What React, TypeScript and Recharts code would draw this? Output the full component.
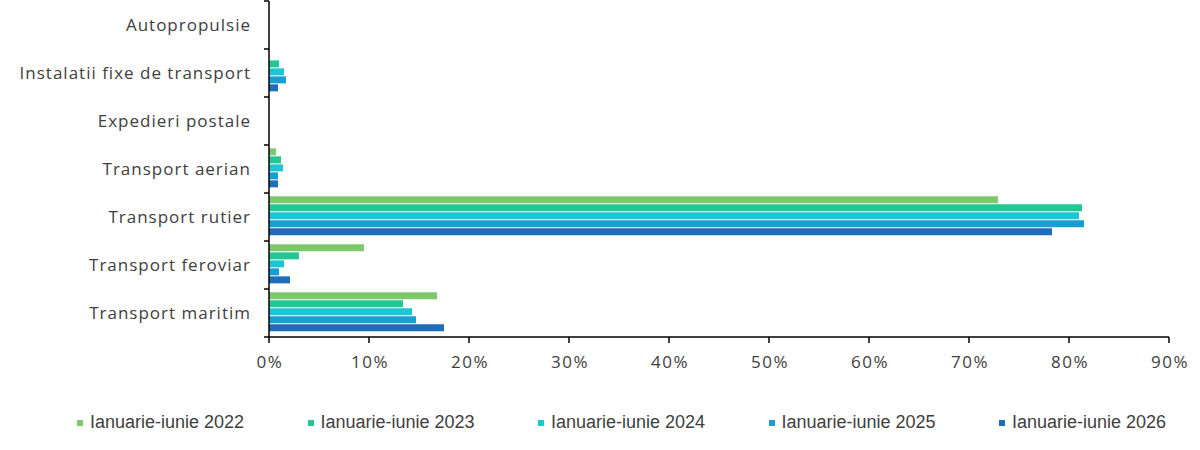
import { Bar, BarChart, XAxis, YAxis } from 'recharts'

const CATEGORIES = [
  'Autopropulsie',
  'Instalatii fixe de transport',
  'Expedieri postale',
  'Transport aerian',
  'Transport rutier',
  'Transport feroviar',
  'Transport maritim',
]

const SERIES = [
  'Ianuarie-iunie 2022',
  'Ianuarie-iunie 2023',
  'Ianuarie-iunie 2024',
  'Ianuarie-iunie 2025',
  'Ianuarie-iunie 2026',
]

// share of each transport mode, %
const V2022 = [0, 0, 0, 0.7, 72.9, 9.5, 16.8]
const V2023 = [0, 1.0, 0, 1.2, 81.3, 3.0, 13.4]
const V2024 = [0, 1.5, 0, 1.4, 81.0, 1.5, 14.3]
const V2025 = [0, 1.7, 0, 0.9, 81.5, 1.0, 14.7]
const V2026 = [0, 0.9, 0, 0.9, 78.3, 2.1, 17.5]

const X_TICKS = [0, 10, 20, 30, 40, 50, 60, 70, 80, 90]

const COLORS = ['#7cc86a', '#22c893', '#1cc6d3', '#1b9cd2', '#1d6dbb']

const VALUES = [V2022, V2023, V2024, V2025, V2026]

const data = CATEGORIES.map((name, i) => {
  const row: Record<string, string | number> = { name }
  SERIES.forEach((s, j) => {
    row[s] = VALUES[j][i]
  })
  return row
})

const FONT = '"Open Sans", "DejaVu Sans", sans-serif'
const HALF_BAND = 24

function CategoryTick(props: any) {
  const { x, y, payload, index } = props
  const ax = x + 8
  return (
    <g>
      {index === 0 && <line x1={ax - 5} x2={ax} y1={y - HALF_BAND} y2={y - HALF_BAND} stroke="#000" strokeWidth={1.5} />}
      <line x1={ax - 5} x2={ax} y1={y + HALF_BAND} y2={y + HALF_BAND} stroke="#000" strokeWidth={1.5} />
      <text
        x={ax - 18}
        y={y}
        dy={6}
        textAnchor="end"
        fontSize={17}
        letterSpacing={1}
        fill="#404040"
        fontFamily={FONT}
      >
        {payload.value}
      </text>
    </g>
  )
}

function PercentTick(props: any) {
  const { x, y, payload } = props
  return (
    <text x={x + 1} y={y} dy={23} textAnchor="middle" fontSize={17} letterSpacing={1.5} fill="#404040" fontFamily={FONT}>
      {`${payload.value}%`}
    </text>
  )
}

export default function App() {
  return (
    <div style={{ position: 'absolute', top: 0, left: 0, width: 1200, height: 450, background: '#fff' }}>
      <BarChart
        width={1200}
        height={450}
        data={data}
        layout="vertical"
        margin={{ top: 1, right: 31, left: 0, bottom: 83 }}
        barCategoryGap="7%"
        barGap={1}
      >
        <XAxis
          type="number"
          domain={[0, 90]}
          ticks={X_TICKS}
          axisLine={{ stroke: '#000', strokeWidth: 1.5 }}
          tickLine={{ stroke: '#000', strokeWidth: 1.5 }}
          tickSize={6}
          tick={<PercentTick />}
          height={30}
        />
        <YAxis
          type="category"
          dataKey="name"
          width={269}
          axisLine={{ stroke: '#000', strokeWidth: 1.5 }}
          tickLine={false}
          tick={<CategoryTick />}
          interval={0}
        />
        {SERIES.map((s, i) => (
          <Bar key={s} dataKey={s} fill={COLORS[i]} isAnimationActive={false} />
        ))}
      </BarChart>
      {SERIES.map((s, i) => (
        <div
          key={s}
          style={{
            position: 'absolute',
            left: 77 + i * 230.5,
            top: 412,
            display: 'flex',
            alignItems: 'center',
            fontFamily: '"Liberation Sans", Arial, sans-serif',
            fontSize: 18,
            color: '#404040',
            whiteSpace: 'nowrap',
          }}
        >
          <span style={{ display: 'inline-block', width: 6, height: 6, background: COLORS[i], marginRight: 7 }} />
          {s}
        </div>
      ))}
    </div>
  )
}
